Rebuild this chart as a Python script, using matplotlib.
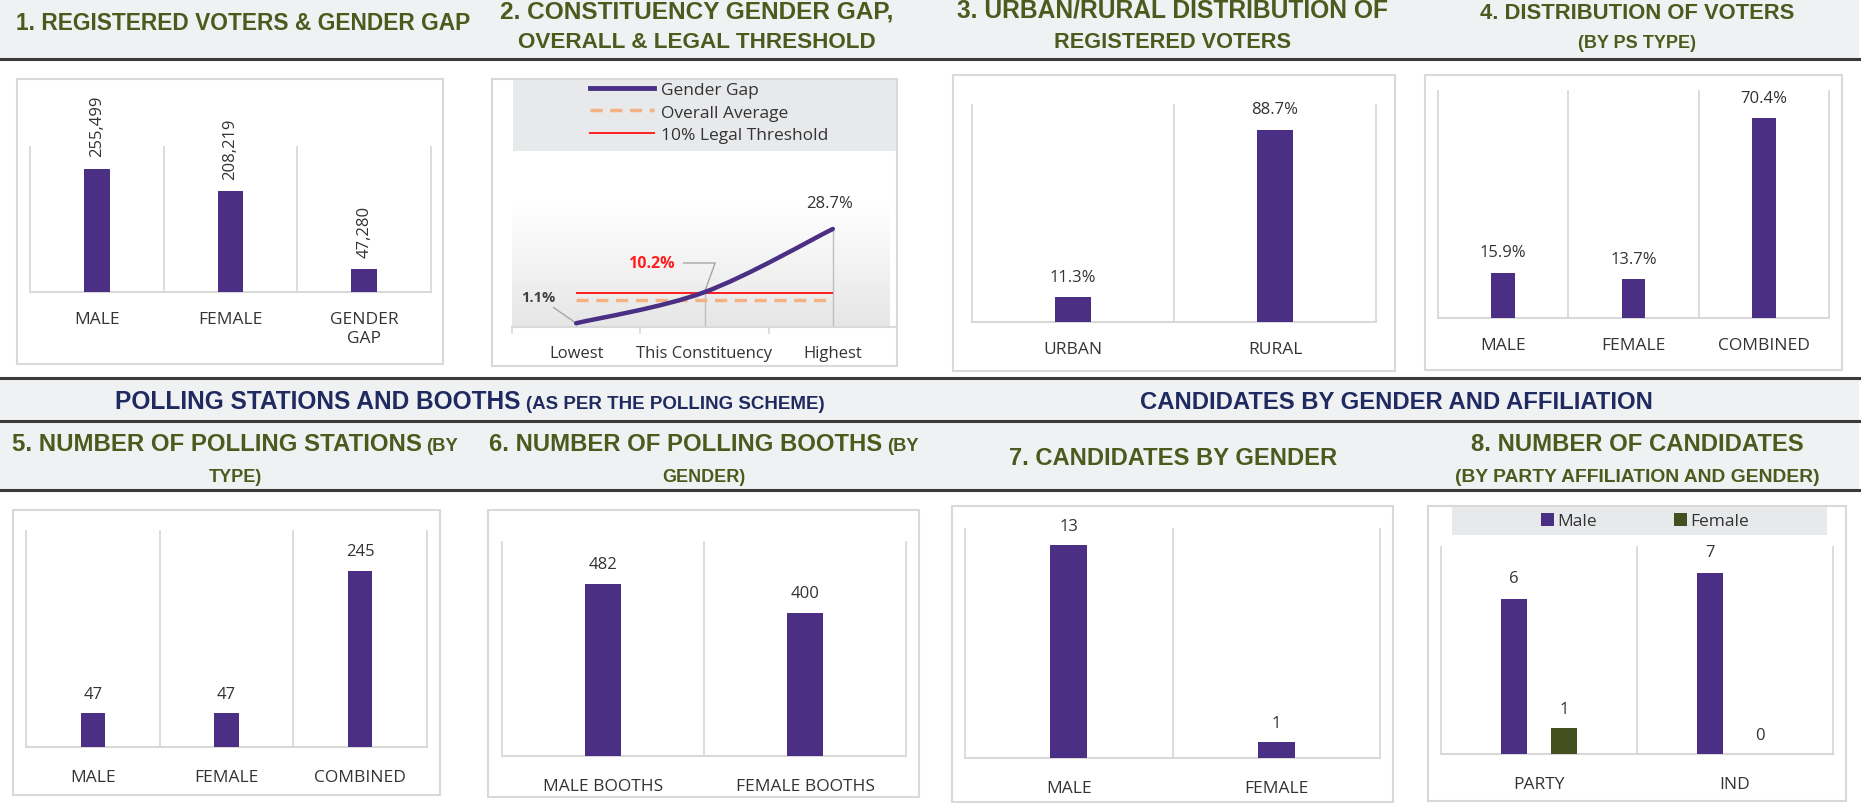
import numpy as np
import matplotlib
matplotlib.use('Agg')
import matplotlib.pyplot as plt
from matplotlib.patches import Rectangle, PathPatch
from matplotlib.path import Path
from matplotlib.lines import Line2D
from matplotlib.colors import LinearSegmentedColormap

plt.rcParams['font.family'] = ['Open Sans', 'DejaVu Sans']

# ---- data ----
p1_cats = ['MALE', 'FEMALE', 'GENDER\nGAP']
p1_vals = [255499, 208219, 47280]

p2_cats = ['Lowest', 'This Constituency', 'Highest']
p2_gap = [1.1, 10.2, 28.7]
p2_avg = 8.0
p2_threshold = 10.0

p3_cats = ['URBAN', 'RURAL']
p3_vals = [11.3, 88.7]

p4_cats = ['MALE', 'FEMALE', 'COMBINED']
p4_vals = [15.9, 13.7, 70.4]

p5_cats = ['MALE', 'FEMALE', 'COMBINED']
p5_vals = [47, 47, 245]

p6_cats = ['MALE BOOTHS', 'FEMALE BOOTHS']
p6_vals = [482, 400]

p7_cats = ['MALE', 'FEMALE']
p7_vals = [13, 1]

p8_cats = ['PARTY', 'IND']
p8_male = [6, 7]
p8_female = [1, 0]

# ---- style ----
W, H = 1871, 804
PURPLE = '#4a2f85'
OLIVE_BAR = '#44501f'
HEAD_COL = '#4d5a1e'
NAVY = '#1f2a60'
BAND = '#f0f1f3'
GRID = '#d9d9d9'
TEXT = '#333333'
HEAD_FONT = ['Liberation Sans', 'DejaVu Sans']

fig = plt.figure(figsize=(W / 100, H / 100), dpi=100)
bg = fig.add_axes([0, 0, 1, 1])
bg.set_xlim(0, W)
bg.set_ylim(H, 0)
bg.axis('off')


def add_ax(box):
    x0, y0, x1, y1 = box
    ax = fig.add_axes([x0 / W, 1 - y1 / H, (x1 - x0) / W, (y1 - y0) / H])
    ax.set_facecolor('none')
    return ax


def title_parts(xc, y, parts, color, target=None):
    """Draw text pieces of different sizes side by side, centred on xc (baseline y),
    scaled so the whole line is about `target` pixels wide"""
    renderer = fig.canvas.get_renderer()
    texts = [bg.text(0, y, s, fontsize=size, fontweight='bold', color=color,
                     va='baseline', ha='left', family=HEAD_FONT) for s, size in parts]
    gap = 5
    widths = [t.get_window_extent(renderer).width for t in texts]
    if target:
        scale = min(target / (sum(widths) + gap * (len(parts) - 1)), 1.25)
        for t, (s, size) in zip(texts, parts):
            t.set_fontsize(size * scale)
        widths = [t.get_window_extent(renderer).width for t in texts]
    total = sum(widths) + gap * (len(parts) - 1)
    x = xc - total / 2
    for t, w in zip(texts, widths):
        t.set_x(x)
        x += w + gap


def style_cat_axes(ax, n, tickpad):
    for s in ['top', 'left', 'right']:
        ax.spines[s].set_visible(False)
    ax.spines['bottom'].set_color(GRID)
    ax.spines['bottom'].set_linewidth(1.5)
    ax.set_yticks([])
    for b in np.arange(-0.5, n, 1.0):
        ax.axvline(b, color=GRID, lw=1.3, clip_on=False, zorder=1)
    ax.tick_params(axis='x', length=0, pad=tickpad, labelsize=12.5, labelcolor=TEXT)


def bar_panel(box, cats, vals, ymax, fmt, tickpad=12, pad=8, rot=0, width=0.18):
    ax = add_ax(box)
    x = np.arange(len(cats))
    bars = ax.bar(x, vals, width=width, color=PURPLE, zorder=3)
    ax.set_xlim(-0.5, len(cats) - 0.5)
    ax.set_ylim(0, ymax)
    style_cat_axes(ax, len(cats), tickpad)
    ax.set_xticks(x, cats)
    ax.bar_label(bars, labels=[fmt.format(v) for v in vals], padding=pad,
                 rotation=rot, fontsize=12, color=TEXT)
    return ax


# ---- background bands, lines, panel boxes ----
for y0, y1 in [(0, 60), (379, 422), (422, 491)]:
    bg.add_patch(Rectangle((0, y0), 1859, y1 - y0, color=BAND, lw=0, zorder=0))
for y in [60, 379, 422, 491]:
    bg.plot([0, 1859], [y, y], color='#3a3a3a', lw=2.2, zorder=1)

boxes = [(17, 80, 443, 365), (492, 80, 897, 367), (953, 76, 1395, 372), (1425, 76, 1842, 371),
         (13, 511, 440, 796), (488, 511, 919, 798), (952, 507, 1393, 803), (1428, 507, 1846, 802)]
for x0, y0, x1, y1 in boxes:
    bg.add_patch(Rectangle((x0, y0), x1 - x0, y1 - y0, facecolor='white',
                           edgecolor=GRID, lw=1.5, zorder=1))

# ---- header titles ----
BIG, SMALL = 17, 13
title_parts(243, 30, [('1. REGISTERED VOTERS & GENDER GAP', BIG)], HEAD_COL, 457)
title_parts(697, 18, [('2. CONSTITUENCY GENDER GAP,', BIG)], HEAD_COL, 394)
title_parts(697, 48, [('OVERALL & LEGAL THRESHOLD', BIG)], HEAD_COL, 358)
title_parts(1173, 18, [('3. URBAN/RURAL DISTRIBUTION OF', BIG)], HEAD_COL, 432)
title_parts(1173, 48, [('REGISTERED VOTERS', BIG)], HEAD_COL, 237)
title_parts(1637, 19, [('4. DISTRIBUTION OF VOTERS', BIG)], HEAD_COL, 315)
title_parts(1637, 48, [('(BY PS TYPE)', SMALL)], HEAD_COL)

title_parts(470, 409, [('POLLING STATIONS AND BOOTHS', BIG), ('(AS PER THE POLLING SCHEME)', SMALL)],
            NAVY, 713)
title_parts(1396, 409, [('CANDIDATES BY GENDER AND AFFILIATION', BIG)], NAVY, 515)

title_parts(235, 451, [('5. NUMBER OF POLLING STATIONS', BIG), ('(BY', SMALL)], HEAD_COL, 447)
title_parts(235, 482, [('TYPE)', SMALL)], HEAD_COL)
title_parts(704, 451, [('6. NUMBER OF POLLING BOOTHS', BIG), ('(BY', SMALL)], HEAD_COL, 430)
title_parts(704, 482, [('GENDER)', SMALL)], HEAD_COL)
title_parts(1173, 465, [('7. CANDIDATES BY GENDER', BIG)], HEAD_COL, 328)
title_parts(1637, 451, [('8. NUMBER OF CANDIDATES', BIG)], HEAD_COL, 334)
title_parts(1637, 482, [('(BY PARTY AFFILIATION AND GENDER)', SMALL)], HEAD_COL, 364)

# ---- 1. registered voters ----
bar_panel((30, 148, 431, 293), p1_cats, p1_vals, 300000, '{:,.0f}', tickpad=14, pad=9, rot=90, width=0.19)

# ---- 2. constituency gender gap ----
ax2 = add_ax((512, 205, 897, 328))
x2 = np.arange(len(p2_cats))
ax2.set_xlim(-0.5, -0.5 + 385 / 131)
ax2.set_ylim(0, 36)
grad = LinearSegmentedColormap.from_list('g', ['#ffffff', '#e6e6e6'])
ax2.imshow(np.linspace(0, 1, 100).reshape(-1, 1), cmap=grad, aspect='auto',
           extent=[-0.5, -0.5 + 385 / 131, 0, 36], origin='upper', zorder=0)
ax2.vlines(x2, 0, p2_gap, color='#bfbfbf', lw=1, zorder=1)
ax2.hlines(p2_avg, x2[0], x2[-1], color='#f4b183', lw=2.5, linestyles=(0, (3.5, 2.2)), zorder=2)
ax2.hlines(p2_threshold, x2[0], x2[-1], color='#ff2020', lw=1.4, zorder=3)

# smooth line through the three points (Catmull-Rom style bezier)
pts = np.column_stack([x2, p2_gap]).astype(float)
ext = np.vstack([pts[0], pts, pts[-1]])
verts, codes = [pts[0]], [Path.MOVETO]
for i in range(len(pts) - 1):
    p0, p1, p2, p3 = ext[i], ext[i + 1], ext[i + 2], ext[i + 3]
    verts += [p1 + (p2 - p0) / 6, p2 - (p3 - p1) / 6, p2]
    codes += [Path.CURVE4] * 3
ax2.add_patch(PathPatch(Path(verts, codes), fill=False, edgecolor=PURPLE, lw=3.2,
                        capstyle='round', zorder=4))

for s in ['top', 'left', 'right']:
    ax2.spines[s].set_visible(False)
ax2.spines['bottom'].set_color(GRID)
ax2.spines['bottom'].set_linewidth(1.5)
ax2.set_yticks([])
ax2.set_xticks(x2, p2_cats)
ax2.set_xticks(np.arange(-0.5, 2.6, 1.0), minor=True)
ax2.tick_params(axis='x', which='major', length=0, pad=13, labelsize=12, labelcolor=TEXT)
ax2.tick_params(axis='x', which='minor', length=5, color=GRID, width=1.2)

ax2.annotate(f'{p2_gap[0]:.1f}%', xy=(x2[0], p2_gap[0]), xytext=(-15, 19), textcoords='offset points',
             ha='right', va='center', fontsize=10.5, fontweight='bold', color='#404040',
             arrowprops=dict(arrowstyle='-', color='#a6a6a6', lw=1, shrinkA=1, shrinkB=1))
ax2.annotate(f'{p2_gap[1]:.1f}%', xy=(x2[1], p2_gap[1]), xytext=(-38, 21), textcoords='offset points',
             ha='center', va='center', fontsize=11.5, fontweight='bold', color='#ff1f1f',
             arrowprops=dict(arrowstyle='-', color='#a6a6a6', lw=1, shrinkA=4, shrinkB=1,
                             connectionstyle='angle,angleA=0,angleB=70,rad=0'))
ax2.annotate(f'{p2_gap[2]:.1f}%', xy=(x2[2], p2_gap[2]), xytext=(-2, 19), textcoords='offset points',
             ha='center', va='center', fontsize=12, color=TEXT)

bg.add_patch(Rectangle((513, 81), 383, 71, color='#e8e9eb', lw=0, zorder=1))
leg_handles = [Line2D([], [], color=PURPLE, lw=3.5),
               Line2D([], [], color='#f4b183', lw=2.5, ls=(0, (3.5, 2.2))),
               Line2D([], [], color='#ff2020', lw=1.4)]
fig.legend(leg_handles, ['Gender Gap', 'Overall Average', '10% Legal Threshold'],
           loc='upper left', bbox_to_anchor=(590 / W, 1 - 83 / H), frameon=False,
           fontsize=12.5, handlelength=3.7, handletextpad=0.4, labelspacing=0.36,
           borderpad=0, borderaxespad=0, labelcolor=TEXT)

# ---- 3. urban / rural ----
bar_panel((972, 106, 1376, 323), p3_cats, p3_vals, 100, '{:.1f}%', tickpad=14, pad=9)

# ---- 4. distribution by PS type ----
bar_panel((1438, 92, 1829, 319), p4_cats, p4_vals, 80, '{:.1f}%', tickpad=14, pad=9)

# ---- 5. polling stations ----
bar_panel((26, 532, 427, 748), p5_cats, p5_vals, 300, '{}', tickpad=16, pad=8)

# ---- 6. polling booths ----
bar_panel((502, 543, 906, 757), p6_cats, p6_vals, 600, '{}', tickpad=16, pad=9)

# ---- 7. candidates by gender ----
bar_panel((965, 530, 1380, 759), p7_cats, p7_vals, 14, '{}', tickpad=16, pad=8)

# ---- 8. candidates by party affiliation ----
ax8 = add_ax((1441, 548, 1833, 755))
x8 = np.arange(len(p8_cats))
bm = ax8.bar(x8 - 0.128, p8_male, width=0.133, color=PURPLE, zorder=3, label='Male')
bf = ax8.bar(x8 + 0.128, p8_female, width=0.133, color=OLIVE_BAR, zorder=3, label='Female')
ax8.set_xlim(-0.5, len(p8_cats) - 0.5)
ax8.set_ylim(0, 8)
style_cat_axes(ax8, len(p8_cats), 16)
ax8.set_xticks(x8, p8_cats)
ax8.bar_label(bm, padding=9, fontsize=12, color=TEXT)
ax8.bar_label(bf, padding=8, fontsize=12, color=TEXT)
bg.add_patch(Rectangle((1452, 508), 375, 28, color='#e8e9eb', lw=0, zorder=1))
fig.legend([bm, bf], ['Male', 'Female'], loc='center', bbox_to_anchor=(1645 / W, 1 - 522 / H),
           ncol=2, frameon=False, fontsize=12.5, handlelength=0.75, handleheight=0.75,
           handletextpad=0.2, columnspacing=4.4, borderpad=0, labelcolor=TEXT)

fig.savefig('out.png', dpi=100)
